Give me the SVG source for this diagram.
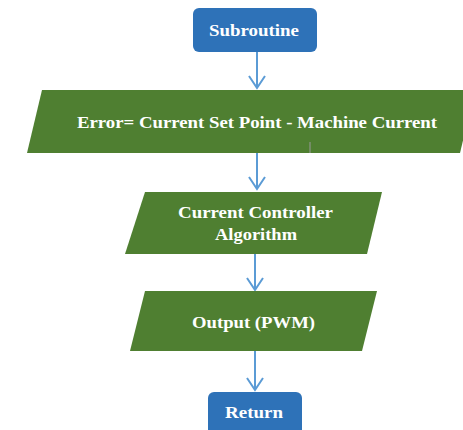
<svg xmlns="http://www.w3.org/2000/svg" width="463" height="430" viewBox="0 0 463 430">
<style>
.term{fill:#2E72B8;}
.io{fill:#4F7F31;}
.t{font-family:"Liberation Serif",serif;font-weight:bold;font-size:17px;fill:#FFFFFF;text-anchor:middle;}
.c{stroke:#5B9BD5;stroke-width:2;fill:none;}
</style>
<defs>
<marker id="ah" markerWidth="16" markerHeight="18" refX="14" refY="9" orient="auto" markerUnits="userSpaceOnUse" viewBox="0 0 16 18" overflow="visible">
<path d="M2,1 L14,9 L2,17" fill="none" stroke="#5B9BD5" stroke-width="2"/>
</marker>
</defs>
<rect width="463" height="430" fill="#FFFFFF"/>
<g id="connectors">
<path class="c" d="M257,52 V88" marker-end="url(#ah)"/>
<path class="c" d="M257,153 V189" marker-end="url(#ah)"/>
<path class="c" d="M255,254 V290" marker-end="url(#ah)"/>
<path class="c" d="M255,351 V390" marker-end="url(#ah)"/>
</g>
<g id="subroutine">
<rect class="term" x="193" y="8" width="124" height="44" rx="6"/>
<text class="t" x="254" y="36" textLength="90" lengthAdjust="spacingAndGlyphs">Subroutine</text>
</g>
<g id="error">
<polygon class="io" points="42,90 475,90 460,153 27,153"/>
<text class="t" x="257" y="128" textLength="360" lengthAdjust="spacingAndGlyphs">Error= Current Set Point - Machine Current</text>
<line x1="310" y1="142" x2="310" y2="153" stroke="#9A9A9A" stroke-width="1"/>
</g>
<g id="controller">
<polygon class="io" points="145,192 382,192 367,254 125,254"/>
<text class="t" x="255.5" y="218" textLength="155" lengthAdjust="spacingAndGlyphs">Current Controller</text>
<text class="t" x="256" y="240" textLength="82" lengthAdjust="spacingAndGlyphs">Algorithm</text>
</g>
<g id="output">
<polygon class="io" points="145,291 377,291 362,351 130,351"/>
<text class="t" x="253.5" y="328" textLength="123" lengthAdjust="spacingAndGlyphs">Output (PWM)</text>
</g>
<g id="return">
<rect class="term" x="208" y="392" width="94" height="50" rx="6"/>
<text class="t" x="254" y="418" textLength="58" lengthAdjust="spacingAndGlyphs">Return</text>
</g>
</svg>
